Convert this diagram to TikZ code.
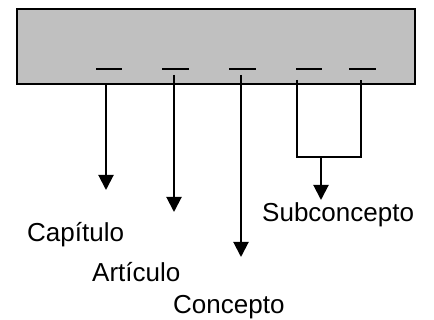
\documentclass[tikz,border=0pt]{standalone}
\usepackage{fontspec}
\setmainfont{Liberation Sans}
\usetikzlibrary{arrows.meta}
\definecolor{boxgray}{HTML}{C0C0C0}
\begin{document}
\begin{tikzpicture}[x=1pt,y=-1pt,
  lab/.style={anchor=west,inner sep=0pt,font=\fontsize{26}{30}\selectfont},
  arr/.style={line width=2pt,-{Triangle[width=15pt,length=15pt]}},
  slot/.style={line width=2.2pt}]
\useasboundingbox (0,0) rectangle (434,320);
\draw[fill=boxgray,line width=2pt] (17,9) rectangle (415,84);
\draw[slot] (96,69) -- (122,69);
\draw[slot] (162,69) -- (189,69);
\draw[slot] (229,69) -- (256,69);
\draw[slot] (296,69) -- (322,69);
\draw[slot] (349,69) -- (376,69);
\coordinate (s1) at (106,84);
\coordinate (s2) at (174,75);
\coordinate (s3) at (241,75);
\coordinate (s4) at (297,80);
\coordinate (s5) at (361,80);
\coordinate (t1) at (106,190);
\coordinate (t2) at (174,212);
\coordinate (t3) at (241,257);
\coordinate (j4) at (297,157);
\coordinate (j5) at (361,157);
\coordinate (jm) at (321,157);
\coordinate (t4) at (321,200);
\node[lab] (cap) at (27,235) {Capítulo};
\node[lab] (art) at (92,272) {Artículo};
\node[lab] (con) at (173,307) {Concepto};
\node[lab] (sub) at (262,215) {Subconcepto};
\draw[arr] (s1) -- (t1);
\draw[arr] (s2) -- (t2);
\draw[arr] (s3) -- (t3);
\draw[line width=1.4pt] (s4) -- (j4) -- (j5) -- (s5);
\draw[arr] (jm) -- (t4);
\end{tikzpicture}
\end{document}
